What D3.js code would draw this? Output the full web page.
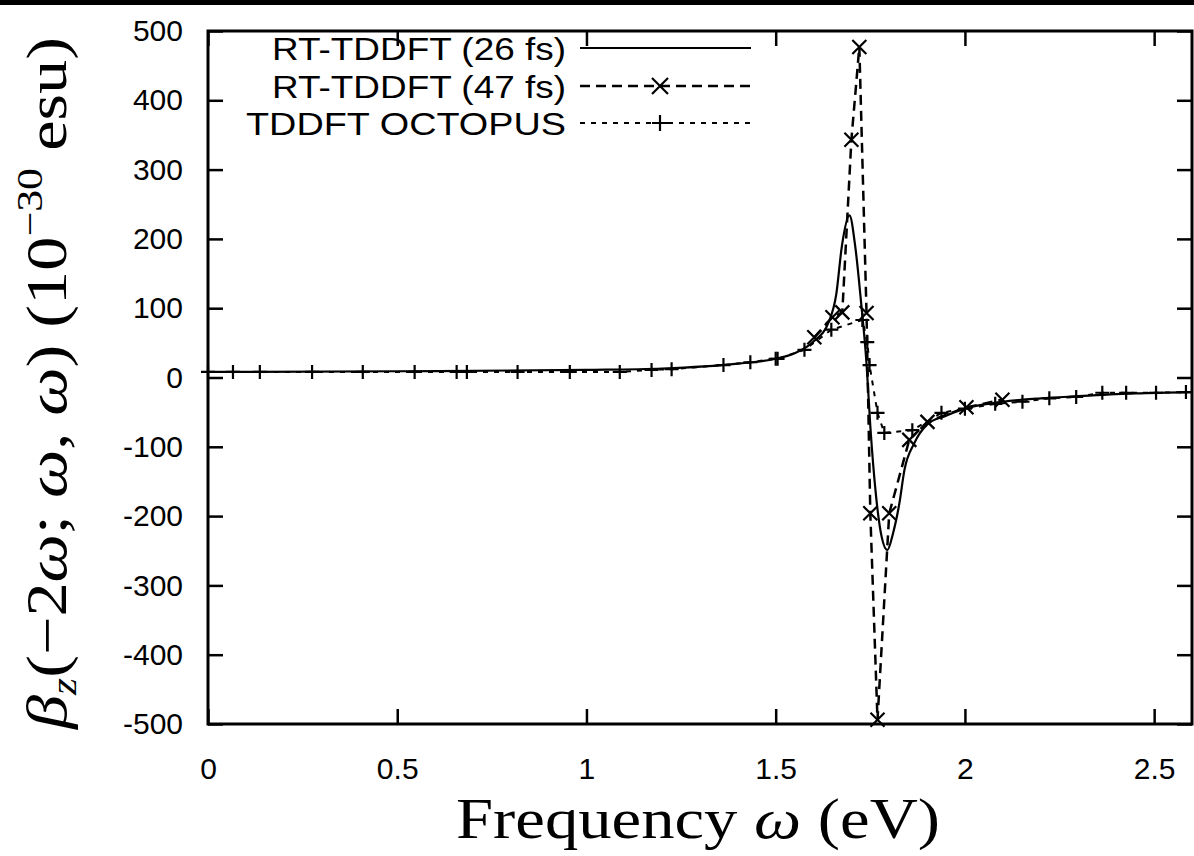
<!DOCTYPE html>
<html>
<head>
<meta charset="utf-8">
<script src="https://cdn.jsdelivr.net/npm/d3@7"></script>
<style>
  body { margin: 0; background: #fff; }
  svg { display: block; }
  .tick text { font-family: "Liberation Sans", Arial, sans-serif; font-size: 30px; fill: #000; }
</style>
</head>
<body>
<div id="chart"></div>
<script>
// RT-TDDFT (26 fs), solid line
const freq26 = [0, 0.5, 1.0, 1.2, 1.4, 1.5, 1.55, 1.6, 1.64, 1.66, 1.675, 1.695, 1.71, 1.725, 1.74, 1.75, 1.765, 1.78, 1.795, 1.81, 1.827, 1.84, 1.866, 1.9, 1.95, 2.0, 2.1, 2.2, 2.3, 2.45, 2.6];
const beta26 = [8, 9, 11, 13, 20, 27, 35, 52, 80, 120, 190, 234, 190, 112, 20, -70, -170, -230, -249, -225, -181, -134, -95, -68, -55, -45, -35, -30, -27, -23, -21];

// RT-TDDFT (47 fs), dashed line with x markers
const freq47 = [1.602, 1.65, 1.676, 1.7, 1.721, 1.74, 1.75, 1.769, 1.8, 1.853, 1.901, 2.004, 2.099];
const beta47 = [58, 87, 94, 343, 477, 93, -196, -494, -196, -90, -64, -43, -32];

// TDDFT OCTOPUS, short dashes with + markers
const freqOct = [0, 0.066, 0.137, 0.275, 0.409, 0.546, 0.657, 0.684, 0.818, 0.956, 1.088, 1.172, 1.225, 1.362, 1.433, 1.5, 1.505, 1.576, 1.647, 1.729, 1.742, 1.748, 1.769, 1.787, 1.861, 1.938, 2.0, 2.08, 2.152, 2.223, 2.294, 2.363, 2.426, 2.505, 2.584];
const betaOct = [8, 8, 8, 8, 8, 8, 8, 8, 8, 8, 8, 11, 12, 18, 22, 27, 27, 40, 69, 83, 51, 18, -51, -80, -76, -51, -45, -38, -35, -30, -28, -22, -22, -22, -21];

const xTicks = [0, 0.5, 1, 1.5, 2, 2.5];
const yTicks = [-500, -400, -300, -200, -100, 0, 100, 200, 300, 400, 500];
const legendLabels = ["RT-TDDFT (26 fs)", "RT-TDDFT (47 fs)", "TDDFT OCTOPUS"];

const W = 1194, H = 856;
const margin = { top: 31, right: 2, bottom: 132, left: 208 };
const width = W - margin.left - margin.right,
  height = H - margin.top - margin.bottom;

const svg = d3.select("#chart").append("svg")
  .attr("width", W)
  .attr("height", H);

// dark strip along the top of the scan
svg.append("rect").attr("x", 0).attr("y", 0).attr("width", W).attr("height", 5).attr("fill", "#000");

const g = svg.append("g").attr("transform", `translate(${margin.left},${margin.top})`);

const x = d3.scaleLinear().domain([0, 2.6]).range([0, width]);
const y = d3.scaleLinear().domain([-500, 500]).range([height, 0]);

// axes, gnuplot style: ticks inward on all four sides
const tickLen = 15;
g.append("g")
  .attr("transform", `translate(0,${height})`)
  .call(d3.axisBottom(x).tickValues(xTicks).tickSize(-tickLen).tickPadding(34).tickFormat(d => String(d)))
  .call(a => a.select(".domain").remove());
g.append("g")
  .call(d3.axisTop(x).tickValues(xTicks).tickSize(-tickLen).tickFormat(""))
  .call(a => a.select(".domain").remove());
g.append("g")
  .call(d3.axisLeft(y).tickValues(yTicks).tickSize(-tickLen).tickPadding(25).tickFormat(d => String(d)))
  .call(a => a.select(".domain").remove());
g.append("g")
  .attr("transform", `translate(${width},0)`)
  .call(d3.axisRight(y).tickValues(yTicks).tickSize(-tickLen).tickFormat(""))
  .call(a => a.select(".domain").remove());
g.selectAll(".tick line").attr("stroke", "#000").attr("stroke-width", 2.5);
g.selectAll(".tick text").attr("fill", "#000");

g.append("defs").append("clipPath").attr("id", "clip")
  .append("rect").attr("x", 0).attr("y", 0).attr("width", width).attr("height", height);

const plot = g.append("g").attr("clip-path", "url(#clip)");

const pts = (xs, ys) => xs.map((v, i) => [v, ys[i]]);
const line = d3.line().x(d => x(d[0])).y(d => y(d[1]));

const d26 = pts(freq26, beta26), d47 = pts(freq47, beta47), dOct = pts(freqOct, betaOct);

plot.append("path").datum(dOct)
  .attr("d", line).attr("fill", "none").attr("stroke", "#000")
  .attr("stroke-width", 2).attr("stroke-dasharray", "5,6");
plot.append("path").datum(d26)
  .attr("d", line.curve(d3.curveMonotoneX)).attr("fill", "none").attr("stroke", "#000")
  .attr("stroke-width", 2.2);
line.curve(d3.curveLinear);
plot.append("path").datum(d47)
  .attr("d", line).attr("fill", "none").attr("stroke", "#000")
  .attr("stroke-width", 2.5).attr("stroke-dasharray", "10,6");

const crossPath = s => `M${-s},${-s}L${s},${s}M${-s},${s}L${s},${-s}`;
const plusPath = s => `M${-s},0L${s},0M0,${-s}L0,${s}`;

// markers are not clipped, so the first + pokes out past the left axis
const marks = g.append("g");
marks.selectAll(".mx").data(d47).enter().append("path")
  .attr("class", "mx")
  .attr("transform", d => `translate(${x(d[0])},${y(d[1])})`)
  .attr("d", crossPath(7)).attr("stroke", "#000").attr("stroke-width", 2.2);
marks.selectAll(".mp").data(dOct).enter().append("path")
  .attr("class", "mp")
  .attr("transform", d => `translate(${x(d[0])},${y(d[1])})`)
  .attr("d", plusPath(7)).attr("stroke", "#000").attr("stroke-width", 2.2);

// frame
g.append("rect").attr("width", width).attr("height", height)
  .attr("fill", "none").attr("stroke", "#000").attr("stroke-width", 3);

// legend
const legend = g.append("g");
const rowY = [17, 55, 92];
const textLen = [294, 294, 320];
const styles = [
  { dash: null, w: 2.2, marker: null },
  { dash: "10,6", w: 2.5, marker: crossPath(8) },
  { dash: "5,6", w: 2, marker: plusPath(8) }
];
legendLabels.forEach((lab, i) => {
  legend.append("text")
    .attr("x", 358).attr("y", rowY[i]).attr("dy", "0.36em")
    .attr("text-anchor", "end")
    .attr("textLength", textLen[i])
    .attr("lengthAdjust", "spacingAndGlyphs")
    .style("font-family", "Liberation Sans, Arial, sans-serif")
    .style("font-size", "32px")
    .text(lab);
  legend.append("line")
    .attr("x1", 372).attr("x2", 543).attr("y1", rowY[i]).attr("y2", rowY[i])
    .attr("stroke", "#000").attr("stroke-width", styles[i].w)
    .attr("stroke-dasharray", styles[i].dash);
  if (styles[i].marker) {
    legend.append("path")
      .attr("transform", `translate(452,${rowY[i]})`)
      .attr("d", styles[i].marker).attr("stroke", "#000").attr("stroke-width", 2.2);
  }
});

// axis titles
svg.append("text")
  .attr("x", 698).attr("y", 838)
  .attr("text-anchor", "middle")
  .attr("textLength", 484)
  .attr("lengthAdjust", "spacingAndGlyphs")
  .style("font-family", "Liberation Serif, Times New Roman, serif")
  .style("font-size", "58px")
  .html('Frequency <tspan font-style="italic">ω</tspan> (eV)');

svg.append("text")
  .attr("transform", "translate(66,383) rotate(-90) scale(1.22,1)")
  .attr("text-anchor", "middle")
  .style("font-family", "Liberation Serif, Times New Roman, serif")
  .style("font-size", "56px")
  .html('<tspan font-style="italic">β</tspan><tspan font-style="italic" font-size="36px" dy="10">z</tspan><tspan dy="-10">(−2</tspan><tspan font-style="italic">ω</tspan>; <tspan font-style="italic">ω</tspan>, <tspan font-style="italic">ω</tspan>)  (10</tspan><tspan font-size="36px" dy="-24">−30</tspan><tspan dy="24"> esu)</tspan>');
</script>
</body>
</html>
